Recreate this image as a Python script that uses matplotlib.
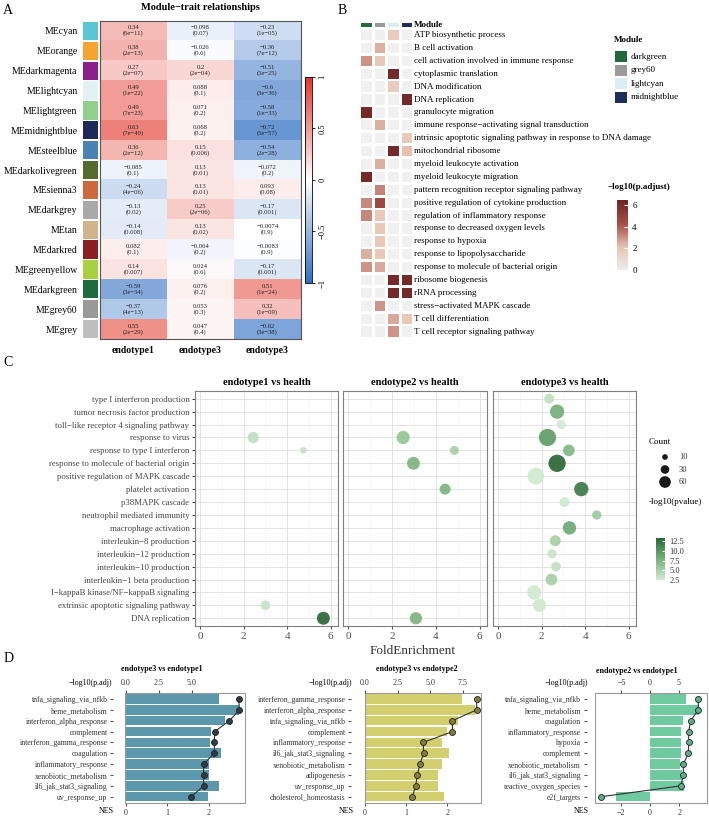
import numpy as np
import matplotlib
matplotlib.use("Agg")
import matplotlib.pyplot as plt
from matplotlib.colors import LinearSegmentedColormap, Normalize
from matplotlib.patches import Rectangle
from matplotlib.cm import ScalarMappable

plt.rcParams['font.family'] = ['Liberation Serif', 'DejaVu Serif']

# ---------------- data: A (module-trait) ----------------
modules = ['MEcyan', 'MEorange', 'MEdarkmagenta', 'MElightcyan', 'MElightgreen',
           'MEmidnightblue', 'MEsteelblue', 'MEdarkolivegreen', 'MEsienna3',
           'MEdarkgrey', 'MEtan', 'MEdarkred', 'MEgreenyellow', 'MEdarkgreen',
           'MEgrey60', 'MEgrey']
module_cols = ['#5ac5d5', '#f5a331', '#8c1f8c', '#e0f2f4', '#90d08a', '#1f2a5a',
               '#4a82b4', '#566b30', '#cd6a3d', '#a9a9a9', '#d2b48c', '#8b1f24',
               '#a8d040', '#1e6b3c', '#999999', '#bebebe']
traits = ['endotype1', 'endotype3', 'endotype3']
cor = [[0.34, -0.098, -0.23], [0.38, -0.026, -0.36], [0.27, 0.2, -0.51],
       [0.49, 0.088, -0.6], [0.49, 0.071, -0.58], [0.63, 0.068, -0.72],
       [0.36, 0.15, -0.54], [-0.085, 0.13, -0.072], [-0.24, 0.13, 0.093],
       [-0.13, 0.25, -0.17], [-0.14, 0.13, -0.0074], [0.082, -0.064, -0.0083],
       [0.14, 0.024, -0.17], [-0.59, 0.076, 0.51], [-0.37, 0.053, 0.32],
       [0.55, 0.047, -0.62]]
pvals = [['6e-11', '0.07', '1e-05'], ['2e-13', '0.6', '7e-12'], ['2e-07', '2e-04', '5e-25'],
         ['1e-22', '0.1', '3e-36'], ['7e-23', '0.2', '1e-33'], ['7e-40', '0.2', '5e-57'],
         ['2e-12', '0.006', '2e-28'], ['0.1', '0.01', '0.2'], ['4e-06', '0.01', '0.08'],
         ['0.02', '2e-06', '0.001'], ['0.008', '0.02', '0.9'], ['0.1', '0.2', '0.9'],
         ['0.007', '0.6', '0.001'], ['3e-34', '0.2', '1e-24'], ['4e-13', '0.3', '1e-09'],
         ['2e-29', '0.4', '3e-38']]

# ---------------- data: B (GO per module) ----------------
b_modules = ['darkgreen', 'grey60', 'lightcyan', 'midnightblue']
b_colors = ['#22683a', '#9a9a9a', '#d9eef3', '#1f2c5e']
go_terms = ['ATP biosynthetic process', 'B cell activation',
            'cell activation involved in immune response', 'cytoplasmic translation',
            'DNA modification', 'DNA replication', 'granulocyte migration',
            'immune response\u2212activating signal transduction',
            'intrinsic apoptotic signaling pathway in response to DNA damage',
            'mitochondrial ribosome', 'myeloid leukocyte activation',
            'myeloid leukocyte migration', 'pattern recognition receptor signaling pathway',
            'positive regulation of cytokine production', 'regulation of inflammatory response',
            'response to decreased oxygen levels', 'response to hypoxia',
            'response to lipopolysaccharide', 'response to molecule of bacterial origin',
            'ribosome biogenesis', 'rRNA processing', 'stress\u2212activated MAPK cascade',
            'T cell differentiation', 'T cell receptor signaling pathway']
go_padj = [[0, 0, 1.8, 0], [0, 2.5, 0, 0], [3.0, 2.0, 0, 0], [0, 0, 6.2, 0],
           [0, 0, 1.8, 0], [0, 0, 0, 6.2], [6.2, 0, 0, 0], [0, 2.5, 0, 0],
           [0, 0, 0, 1.8], [0, 0, 6.2, 2.2], [0, 2.5, 0, 0], [6.2, 0, 0, 0],
           [0, 3.3, 0, 0], [3.2, 4.6, 0, 0], [3.2, 2.0, 0, 0], [0, 2.0, 0, 0],
           [0, 2.0, 0, 0], [2.5, 2.0, 0, 0], [3.0, 2.6, 0, 0], [0, 0, 6.2, 6.2],
           [0, 0, 6.2, 6.2], [0, 3.0, 0, 0], [0, 0, 2.6, 2.0], [0, 0, 3.0, 0]]

# ---------------- data: C (enrichment vs health) ----------------
c_terms = ['type I interferon production', 'tumor necrosis factor production',
           'toll\u2212like receptor 4 signaling pathway', 'response to virus',
           'response to type I interferon', 'response to molecule of bacterial origin',
           'positive regulation of MAPK cascade', 'platelet activation', 'p38MAPK cascade',
           'neutrophil mediated immunity', 'macrophage activation', 'interleukin\u22128 production',
           'interleukin\u221212 production', 'interleukin\u221210 production',
           'interleukin\u22121 beta production', 'I\u2212kappaB kinase/NF\u2212kappaB signaling',
           'extrinsic apoptotic signaling pathway', 'DNA replication']
c_titles = ['endotype1 vs health', 'endotype2 vs health', 'endotype3 vs health']
c1_terms = ['response to virus', 'response to type I interferon',
            'extrinsic apoptotic signaling pathway', 'DNA replication']
c1_fe = [2.44, 4.74, 3.0, 5.66]
c1_count = [55, 16, 40, 75]
c1_logp = [3.5, 3.2, 3.2, 13.4]
c2_terms = ['response to virus', 'response to type I interferon',
            'response to molecule of bacterial origin', 'platelet activation', 'DNA replication']
c2_fe = [2.51, 4.84, 2.98, 4.42, 3.09]
c2_count = [78, 33, 74, 52, 66]
c2_logp = [6.0, 5.0, 7.5, 7.5, 7.5]
c3_terms = c_terms[:17]
c3_fe = [2.35, 2.71, 2.9, 2.27, 3.25, 2.71, 1.73, 3.82, 3.05, 4.53, 3.28, 2.63,
         2.48, 2.66, 2.45, 1.66, 1.9]
c3_count = [43, 93, 33, 138, 60, 138, 128, 93, 43, 36, 80, 52, 36, 40, 60, 93, 80]
c3_logp = [3.5, 8.0, 2.6, 9.5, 7.0, 13.4, 2.6, 12.0, 2.6, 5.5, 8.5, 5.0, 3.0, 3.5,
           5.0, 2.6, 2.6]

# ---------------- data: D (GSEA hallmark) ----------------
d_titles = ['endotype3 vs endotype1', 'endotype3 vs endotype2', 'endotype2 vs endotype1']
d1_terms = ['tnfa_signaling_via_nfkb', 'heme_metabolism', 'interferon_alpha_response',
            'complement', 'interferon_gamma_response', 'coagulation', 'inflammatory_response',
            'xenobiotic_metabolism', 'il6_jak_stat3_signaling', 'uv_response_up']
d1_nes = [2.25, 2.72, 2.39, 2.06, 2.02, 2.3, 2.0, 2.0, 2.24, 1.98]
d1_logp = [8.53, 8.58, 7.83, 6.71, 6.69, 6.69, 5.88, 5.88, 5.88, 4.95]
d2_terms = ['interferon_gamma_response', 'interferon_alpha_response', 'tnfa_signaling_via_nfkb',
            'complement', 'inflammatory_response', 'il6_jak_stat3_signaling',
            'xenobiotic_metabolism', 'adipogenesis', 'uv_response_up', 'cholesterol_homeostasis']
d2_nes = [2.35, 2.68, 2.25, 2.0, 1.87, 2.04, 1.87, 1.78, 1.78, 1.92]
d2_logp = [8.59, 8.59, 6.72, 6.72, 4.49, 4.5, 4.23, 4.02, 3.9, 3.64]
d3_terms = ['tnfa_signaling_via_nfkb', 'heme_metabolism', 'coagulation', 'inflammatory_response',
            'hypoxia', 'complement', 'xenobiotic_metabolism', 'il6_jak_stat3_signaling',
            'reactive_oxygen_species', 'e2f_targets']
d3_nes = [2.47, 3.38, 2.28, 2.1, 2.1, 2.1, 2.05, 2.17, 2.35, -2.3]
d3_logp = [8.43, 8.43, 7.1, 6.75, 6.75, 6.7, 5.82, 5.82, 5.4, -8.55]

W, H = 709, 830
fig = plt.figure(figsize=(W / 100, H / 100), dpi=100)


def px_axes(x0, y0, x1, y1):
    return fig.add_axes([x0 / W, 1 - y1 / H, (x1 - x0) / W, (y1 - y0) / H])


def mfmt(v):
    return str(v).replace('-', '\u2212')


# ================= Panel A =================
cmapA = LinearSegmentedColormap.from_list('bwr', ['#2f6fc3', '#ffffff', '#e3372b'])
axA = px_axes(100, 21, 301, 339)
axA.imshow(np.array(cor), cmap=cmapA, vmin=-1, vmax=1, aspect='auto', interpolation='nearest')
for i in range(len(modules)):
    for j in range(len(traits)):
        axA.text(j, i, mfmt(cor[i][j]) + '\n(' + mfmt(pvals[i][j]) + ')', ha='center',
                 va='center', fontsize=4.8, linespacing=1.05, color='#222222')
axA.set_xticks(range(len(traits)))
axA.set_xticklabels(traits, fontsize=7, fontweight='bold')
axA.set_yticks([])
axA.tick_params(axis='x', length=0, pad=5)
for s in axA.spines.values():
    s.set_color('#555555')
    s.set_linewidth(0.8)
axA.set_title('Module\u2212trait relationships', fontsize=7.5, fontweight='bold', pad=8)

axS = px_axes(83, 21, 98, 339)
axS.barh(range(len(modules)), [1] * len(modules), height=0.92, color=module_cols)
axS.set_xlim(0, 1)
axS.set_ylim(len(modules) - 0.5, -0.5)
axS.set_xticks([])
axS.set_yticks(range(len(modules)))
axS.set_yticklabels(modules, fontsize=7)
axS.tick_params(axis='y', length=0, pad=4)
for s in axS.spines.values():
    s.set_visible(False)

cbA = px_axes(305, 77, 312, 283)
cb = fig.colorbar(ScalarMappable(Normalize(-1, 1), cmapA), cax=cbA)
cb.set_ticks([-1, -0.5, 0, 0.5, 1])
cb.set_ticklabels(['\u22121', '\u22120.5', '0', '0.5', '1'])
cbA.tick_params(labelsize=6, length=2.5, width=0.6, pad=2)
for lab in cbA.get_yticklabels():
    lab.set_rotation(90)
    lab.set_va('center')
cb.outline.set_linewidth(0.6)

# ================= Panel B =================
cmapB = LinearSegmentedColormap.from_list('gb', [(0, '#ececec'), (0.32, '#e8c6b4'),
                                                  (0.65, '#a8504a'), (1, '#6e2424')])
axB = px_axes(359, 18, 413, 339)
axB.set_xlim(-0.56, 3.44)
axB.set_ylim(23.57, -1.32)
axB.axis('off')
for j, c in enumerate(b_colors):
    axB.add_patch(Rectangle((j - 0.4, -0.95), 0.8, 0.35, color=c, lw=0))
axB.text(3.52, -0.78, 'Module', fontsize=6.5, fontweight='bold', va='center', ha='left')
for i, term in enumerate(go_terms):
    for j in range(len(b_modules)):
        v = go_padj[i][j]
        col = '#f0f0f0' if v == 0 else cmapB(v / 6.5)
        axB.add_patch(Rectangle((j - 0.4, i - 0.4), 0.8, 0.8, color=col, lw=0))
    axB.text(3.52, i, term, fontsize=6.5, va='center', ha='left', clip_on=False)

cbB = px_axes(617, 200, 628, 270)
cb2 = fig.colorbar(ScalarMappable(Normalize(0, 6.5), cmapB), cax=cbB)
cb2.set_ticks([0, 2, 4, 6])
cbB.tick_params(labelsize=6.5, direction='in', color='white', length=3, width=0.8, pad=3)
cb2.outline.set_visible(False)

# ================= Panel C =================
cmapC = LinearSegmentedColormap.from_list('gr', [(0, '#d4ebd1'), (0.35, '#8fc290'),
                                                  (0.7, '#56975f'), (1, '#2a6636')])
normC = Normalize(2.4, 13.4)


def csize(n):
    return 1.08 * np.asarray(n) + 6


c_sets = [(c1_terms, c1_fe, c1_count, c1_logp), (c2_terms, c2_fe, c2_count, c2_logp),
          (c3_terms, c3_fe, c3_count, c3_logp)]
c_pos = [(195, 338), (343, 487), (493, 636)]
for k, (terms, fe, cnt, lp) in enumerate(c_sets):
    ax = px_axes(c_pos[k][0], 391, c_pos[k][1], 626)
    ys = [c_terms.index(t) for t in terms]
    ax.scatter(fe, ys, s=csize(cnt), c=lp, cmap=cmapC, norm=normC, alpha=0.92,
               edgecolors='none', zorder=3)
    ax.set_xlim(-0.23, 6.33)
    ax.set_ylim(len(c_terms) - 0.4, -0.6)
    ax.set_xticks([0, 2, 4, 6])
    ax.set_xticks([1, 3, 5], minor=True)
    ax.set_yticks(range(len(c_terms)))
    ax.grid(True, which='major', color='#e3e3e3', lw=0.7)
    ax.grid(True, which='minor', axis='x', color='#efefef', lw=0.4)
    ax.set_axisbelow(True)
    ax.tick_params(axis='x', which='major', labelsize=8, colors='#555555', length=2, pad=2)
    ax.tick_params(axis='x', which='minor', length=0)
    if k == 0:
        ax.set_yticklabels(c_terms, fontsize=6.3, color='#444444')
        ax.tick_params(axis='y', length=2, color='#444444', pad=2)
    else:
        ax.set_yticklabels([])
        ax.tick_params(axis='y', length=0)
    for s in ax.spines.values():
        s.set_color('#7f7f7f')
        s.set_linewidth(0.8)
    ax.set_title(c_titles[k], fontsize=7.5, fontweight='bold', pad=4)

cbC = px_axes(656, 538, 665, 580)
cb3 = fig.colorbar(ScalarMappable(normC, cmapC), cax=cbC)
cb3.set_ticks([2.5, 5.0, 7.5, 10.0, 12.5])
cb3.set_ticklabels(['2.5', '5.0', '7.5', '10.0', '12.5'])
cbC.tick_params(labelsize=6, direction='in', color='white', length=2.5, width=0.8,
                pad=3, labelcolor='#333333')
cb3.outline.set_visible(False)

# ================= Panel D =================
d_sets = [(d1_terms, d1_nes, d1_logp), (d2_terms, d2_nes, d2_logp), (d3_terms, d3_nes, d3_logp)]
d_pos = [(125, 245), (365, 481), (595, 707)]
d_bar = ['#5b98ab', '#d3ce6e', '#6fcaa0']
d_pt = ['#2f3b46', '#827e40', '#5daf86']
d_xlim = [(-0.024, 2.87), (0, 2.82), (-3.77, 3.9)]
d_txlim = [(-0.05, 9.0), (0, 8.92), (-9.6, 9.95)]
d_xt = [[0, 1, 2], [0, 1, 2], [-2, 0, 2]]
d_txt = [[0, 2.5, 5.0], [0, 2.5, 5.0, 7.5], [-5, 0, 5]]
d_txl = [['0.0', '2.5', '5.0'], ['0.0', '2.5', '5.0', '7.5'], ['\u22125', '0', '5']]
d_off = [8.5, 10, 6]
for k, (terms, nes, lp) in enumerate(d_sets):
    ax = px_axes(d_pos[k][0], 693, d_pos[k][1], 803)
    ys = np.arange(len(terms))
    ax.barh(ys, nes, height=0.88, color=d_bar[k], zorder=2)
    ax.set_xlim(*d_xlim[k])
    ax.set_ylim(len(terms) - 0.42, -0.55)
    ax.set_yticks(ys)
    ax.set_yticklabels(terms, color='#333333')
    ax.set_xticks(d_xt[k])
    ax.set_xticklabels([mfmt(v) for v in d_xt[k]])
    ax.tick_params(axis='both', labelsize=5.8, length=2, color='#555555', pad=2,
                   labelcolor='#333333')
    ax.tick_params(axis='y', labelsize=5.6)
    for s in ax.spines.values():
        s.set_visible(False)
    ax.spines['left'].set_visible(True)
    ax.spines['left'].set_color('none')
    ax.spines['left'].set_position(('outward', d_off[k]))
    ax.add_patch(Rectangle((0, 0), 1, 1, transform=ax.transAxes, fill=False,
                           edgecolor='#9a9a9a', lw=0.8, clip_on=False, zorder=5))
    tw = ax.twiny()
    tw.plot(lp, ys, '-o', color='#333333', lw=0.8, ms=4.3, mfc=d_pt[k],
            mec='#222222', mew=0.6, zorder=4)
    tw.set_xlim(*d_txlim[k])
    tw.set_xticks(d_txt[k])
    tw.set_xticklabels(d_txl[k])
    tw.tick_params(axis='x', labelsize=5.8, length=2, color='#555555', pad=2,
                   labelcolor='#333333')
    for s in tw.spines.values():
        s.set_visible(False)

# ================= overlay text / legends =================
lay = fig.add_axes([0, 0, 1, 1], facecolor='none')
lay.set_xlim(0, W)
lay.set_ylim(H, 0)
lay.axis('off')
for lab, (x, y) in zip('ABCD', [(3, 11), (338, 11), (3, 362), (4, 658)]):
    lay.text(x, y, lab, fontsize=10, va='center', ha='left')

# module legend (B)
lay.text(614, 40, 'Module', fontsize=6.5, fontweight='bold', va='center')
for i, (m, c) in enumerate(zip(b_modules, b_colors)):
    lay.add_patch(Rectangle((615, 51.5 + 13.4 * i), 12, 11, color=c, lw=0))
    lay.text(631, 57 + 13.4 * i, m, fontsize=6.5, va='center')
lay.text(608, 187, '\u2212log10(p.adjust)', fontsize=6.5, fontweight='bold', va='center')

# count legend (C)
lay.text(649, 442, 'Count', fontsize=6.5, va='center')
for i, n in enumerate([10, 30, 60]):
    lay.scatter([665], [457 + 12.5 * i], s=csize(n), color='#1a1a1a', edgecolors='none')
    lay.text(679, 457 + 12.5 * i, str(n), fontsize=6, va='center', color='#333333')
lay.text(649, 502, '-log10(pvalue)', fontsize=6.5, va='center')
lay.text(413, 651, 'FoldEnrichment', fontsize=9.5, ha='center', va='center', color='#333333')

# D labels
for k, (cx, ty) in enumerate([(162, 669), (417, 669), (637, 671)]):
    lay.text(cx, ty, d_titles[k], fontsize=5.8, fontweight='bold', ha='center', va='center')
for rx in [112, 352, 588]:
    lay.text(rx, 683, '\u2212log10(p.adj)', fontsize=5.8, ha='right', va='center')
for rx in [114, 354, 589]:
    lay.text(rx, 811, 'NES', fontsize=5.8, ha='right', va='center')

fig.savefig('out.png', dpi=100)
